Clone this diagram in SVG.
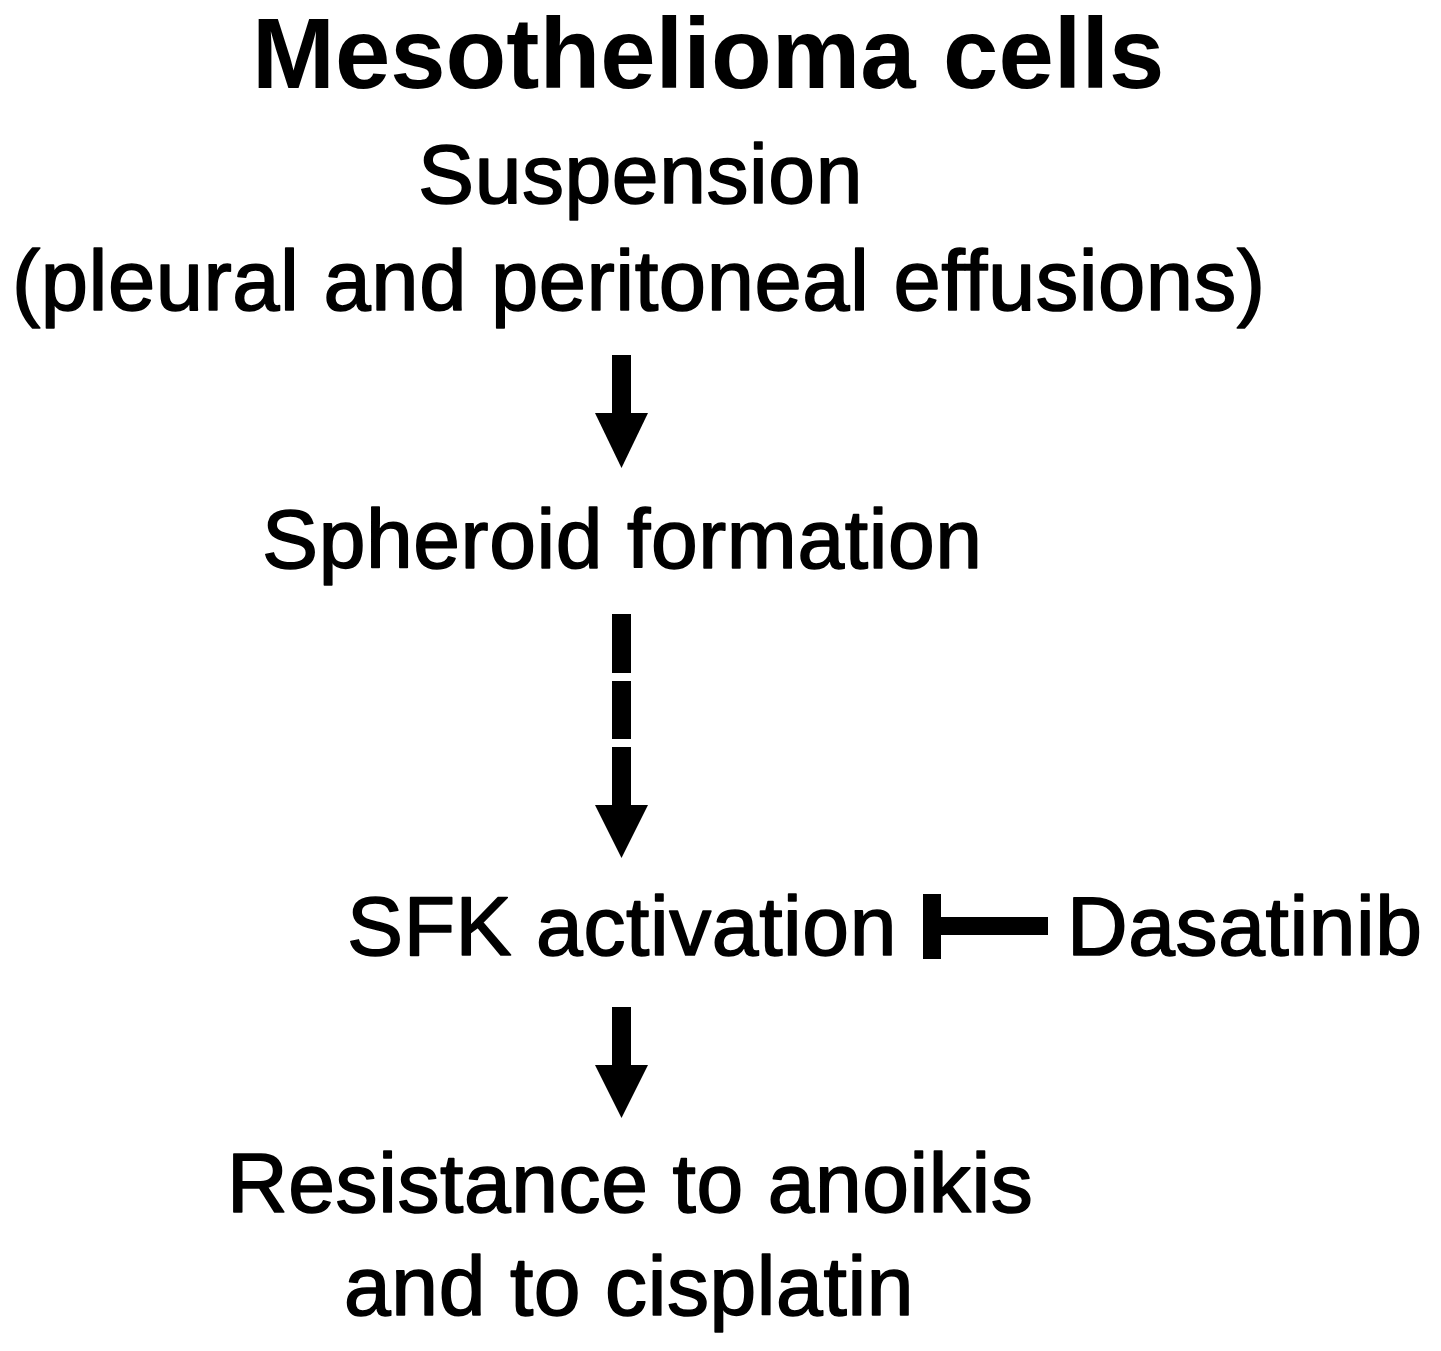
<svg xmlns="http://www.w3.org/2000/svg" width="1441" height="1351" viewBox="0 0 1441 1351">
<style>
text{font-family:"Liberation Sans",Arial,sans-serif;fill:#000;font-size:84px;letter-spacing:0.6px;stroke:#000;stroke-width:1.6px;stroke-linejoin:round}
.title{font-weight:bold;font-size:99.5px;letter-spacing:0;stroke:none}
.c{fill:#000}
</style>
<rect width="1441" height="1351" fill="#fff"/>
<g id="title"><text class="title" x="252" y="88">Mesothelioma cells</text></g>
<g id="suspension">
<text x="418" y="203">Suspension</text>
<text x="12" y="310" style="font-size:85px;letter-spacing:0.5px">(pleural and peritoneal effusions)</text>
</g>
<g id="spheroid"><text x="262" y="568">Spheroid formation</text></g>
<g id="sfk"><text x="347" y="955">SFK activation</text></g>
<g id="dasatinib"><text x="1067" y="955">Dasatinib</text></g>
<g id="resistance">
<text x="227" y="1212">Resistance to anoikis</text>
<text x="344" y="1315">and to cisplatin</text>
</g>
<g id="connectors" class="c">
<rect x="612" y="355" width="19" height="60"/>
<polygon points="595,413 648,413 621.5,468"/>
<rect x="612" y="614" width="19" height="59"/>
<rect x="612" y="681" width="19" height="58"/>
<rect x="612" y="747" width="19" height="60"/>
<polygon points="595,805 648,805 621.5,858"/>
<rect x="612" y="1007" width="19" height="60"/>
<polygon points="595,1065 648,1065 621.5,1118"/>
<rect x="923" y="894" width="18" height="65"/>
<rect x="940" y="917" width="108" height="18"/>
</g>
</svg>
